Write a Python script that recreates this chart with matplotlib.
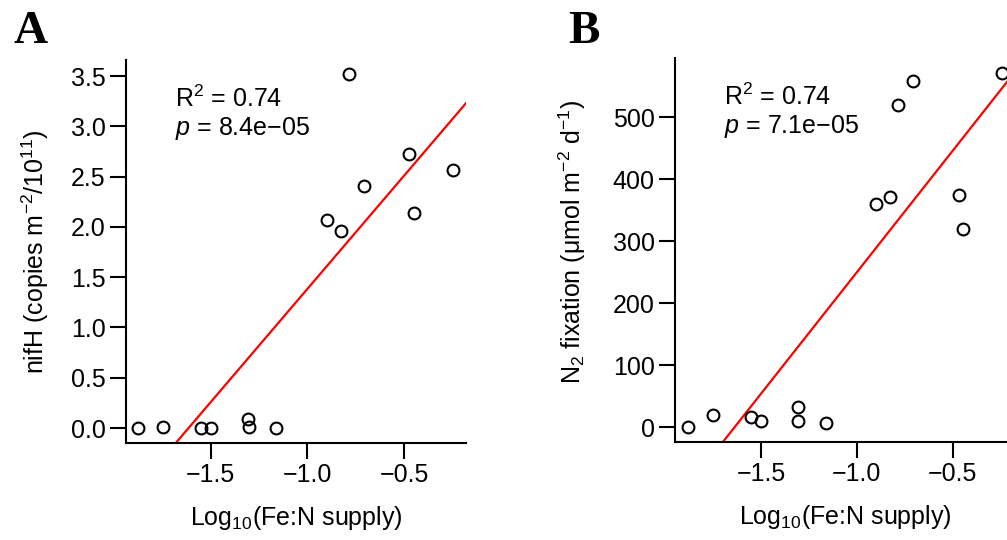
import numpy as np
import matplotlib
matplotlib.use("Agg")
import matplotlib.pyplot as plt

plt.rcParams['font.family'] = ['Liberation Sans', 'DejaVu Sans']
plt.rcParams['mathtext.fontset'] = 'custom'
plt.rcParams['mathtext.rm'] = 'Liberation Sans'
plt.rcParams['mathtext.it'] = 'Liberation Sans:italic'
plt.rcParams['mathtext.bf'] = 'Liberation Sans:bold'

# Data
# Panel A: nifH abundance vs log10(Fe:N supply)
fe_n_a = [-1.875, -1.745, -1.55, -1.50, -1.305, -1.30, -1.164,
          -0.90, -0.826, -0.783, -0.705, -0.473, -0.447, -0.248]
nifh = [0.0, 0.013, 0.0, 0.0, 0.09, 0.015, 0.0,
        2.07, 1.96, 3.52, 2.41, 2.73, 2.14, 2.565]

# Panel B: N2 fixation vs log10(Fe:N supply)
fe_n_b = [-1.882, -1.749, -1.554, -1.50, -1.309, -1.309, -1.162,
          -0.902, -0.827, -0.787, -0.706, -0.467, -0.445, -0.244]
n2_fix = [0, 19, 16, 10, 32, 10, 7,
          360, 372, 520, 559, 374, 320, 572]

stats_a = ["R$^2$ = 0.74", "$p$ = 8.4e\u221205"]
stats_b = ["R$^2$ = 0.74", "$p$ = 7.1e\u221205"]

FS = 18

fig = plt.figure(figsize=(10.07, 5.40), dpi=100)
axA = fig.add_axes([126/1007, 1 - 442.7/540, 340/1007, 382.7/540])
axB = fig.add_axes([675/1007, 1 - 441.7/540, 340/1007, 383.7/540])


def style(ax):
    for s in ['top', 'right']:
        ax.spines[s].set_visible(False)
    for s in ['left', 'bottom']:
        ax.spines[s].set_linewidth(1.5)
    ax.tick_params(direction='out', length=11.5, width=1.5, labelsize=FS, pad=3)


def panel(ax, x, y, stats):
    x = np.array(x)
    y = np.array(y)
    ax.plot(x, y, 'o', ms=8.5, mfc='none', mec='black', mew=1.5, clip_on=False, zorder=3)
    m, b = np.polyfit(x, y, 1)
    ax.axline((0, b), slope=m, color='#ff0000', lw=1.6)
    ax.text(0.144, 0.877, stats[0], transform=ax.transAxes, fontsize=FS, va='baseline')
    ax.text(0.144, 0.804, stats[1], transform=ax.transAxes, fontsize=FS, va='baseline')


# panel A
panel(axA, fe_n_a, nifh, stats_a)
axA.set_xlim(-1.938, -0.179)
axA.set_ylim(-0.146, 3.66)
axA.set_xticks([-1.5, -1.0, -0.5])
axA.set_yticks(np.arange(0, 3.6, 0.5))
axA.set_yticklabels(["%.1f" % v for v in np.arange(0, 3.6, 0.5)])
axA.set_xlabel("Log$_{10}$(Fe:N supply)", fontsize=FS)
axA.set_ylabel("nifH (copies m$^{-2}$/10$^{11}$)", fontsize=FS)
axA.xaxis.set_label_coords(0.5, -0.16)
axA.yaxis.set_label_coords(-0.22, 0.5)
style(axA)

# panel B
panel(axB, fe_n_b, n2_fix, stats_b)
axB.set_xlim(-1.949, -0.175)
axB.set_ylim(-23.7, 596)
axB.set_xticks([-1.5, -1.0, -0.5])
axB.set_yticks([0, 100, 200, 300, 400, 500])
axB.set_xlabel("Log$_{10}$(Fe:N supply)", fontsize=FS)
axB.set_ylabel("N$_2$ fixation (\u03bcmol m$^{-2}$ d$^{-1}$)", fontsize=FS)
axB.xaxis.set_label_coords(0.5, -0.16)
axB.yaxis.set_label_coords(-0.255, 0.52)
style(axB)

fig.text(13/1007, 1 - 43/540, "A", fontsize=34, fontweight='bold',
         family='Liberation Serif', va='baseline')
fig.text(568/1007, 1 - 43/540, "B", fontsize=34, fontweight='bold',
         family='Liberation Serif', va='baseline')

fig.savefig("out.png", dpi=100)
